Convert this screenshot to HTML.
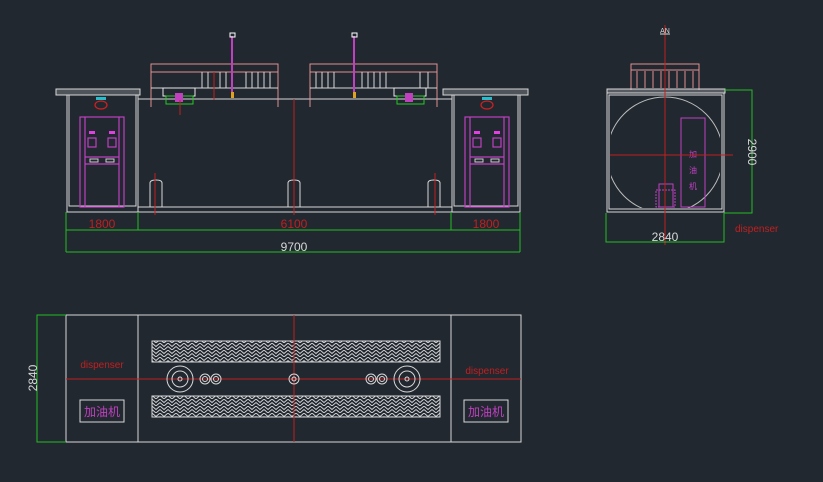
<!DOCTYPE html>
<html><head><meta charset="utf-8"><style>
html,body{margin:0;padding:0;background:#212830;}
svg{display:block}
text{font-family:"Liberation Sans","Noto Sans CJK SC",sans-serif}
</style></head><body>
<svg width="823" height="482" viewBox="0 0 823 482" xmlns="http://www.w3.org/2000/svg">
<defs>
<pattern id="hb" width="8" height="7" patternUnits="userSpaceOnUse">
<path d="M0 0 L4 3.5 L8 0 M0 3.5 L4 7 L8 3.5" stroke="#d8d8d8" stroke-width="0.9" fill="none"/>
</pattern>
<clipPath id="sq"><rect x="611" y="96" width="109" height="112" rx="6"/></clipPath>
</defs>
<rect width="823" height="482" fill="#212830"/>

<!-- FRONT VIEW -->
<g fill="none" stroke="#d8d8d8" stroke-width="1">
<rect x="56" y="89" width="84" height="6" fill="#d8d8d8" fill-opacity="0.25"/>
<rect x="443" y="89" width="85" height="6" fill="#d8d8d8" fill-opacity="0.25"/>
<rect x="67" y="95" width="71" height="117"/>
<rect x="69" y="95" width="67" height="111"/>
<rect x="452" y="95" width="68" height="117"/>
<rect x="454" y="95" width="64" height="111"/>
<line x1="138" y1="99" x2="452" y2="99"/>
<line x1="138" y1="207" x2="452" y2="207"/>
<line x1="67" y1="212" x2="520" y2="212"/>
<path d="M150 207 V183 Q150 180 156 180 Q162 180 162 183 V207"/>
<path d="M288 207 V183 Q288 180 294 180 Q300 180 300 183 V207"/>
<path d="M428 207 V183 Q428 180 434 180 Q440 180 440 183 V207"/>
</g>
<!-- canopies -->
<g fill="none" stroke="#e09090" stroke-width="1">
<rect x="151" y="64" width="127" height="8"/>
<line x1="151" y1="72" x2="151" y2="107"/><line x1="278" y1="72" x2="278" y2="107"/>
<rect x="310" y="64" width="127" height="8"/>
<line x1="310" y1="72" x2="310" y2="107"/><line x1="437" y1="72" x2="437" y2="107"/>
<rect x="631" y="64" width="68" height="6"/>
<line x1="631" y1="70" x2="631" y2="90"/><line x1="699" y1="70" x2="699" y2="90"/>
</g>
<g stroke="#d8d8d8" stroke-width="1">
<line x1="151" y1="88" x2="278" y2="88"/><line x1="310" y1="88" x2="437" y2="88"/>
<path d="M202 72V88M208 72V88M214 72V88M220 72V88M226 72V88M246 72V88M252 72V88M258 72V88M264 72V88M270 72V88"/>
<path d="M316 72V88M322 72V88M328 72V88M334 72V88M362 72V88M368 72V88M374 72V88M380 72V88M386 72V88M420 72V88M428 72V88"/>
<path d="M637 71V88M645 71V88M653 71V88M661 71V88M669 71V88M677 71V88M685 71V88M693 71V88" stroke="#e09090"/>
</g>
<!-- vent pipes -->
<g stroke="#c040c0" stroke-width="2">
<line x1="232" y1="36" x2="232" y2="98"/><line x1="354" y1="36" x2="354" y2="98"/>
</g>
<rect x="230" y="33" width="5" height="4" fill="none" stroke="#fff"/>
<rect x="352" y="33" width="5" height="4" fill="none" stroke="#fff"/>
<rect x="231" y="92" width="3" height="6" fill="#e0a020"/>
<rect x="353" y="92" width="3" height="6" fill="#e0a020"/>
<!-- pumps -->
<g stroke="#e8e8e8" stroke-width="1" fill="none">
<rect x="163" y="88" width="32" height="8"/><rect x="394" y="88" width="32" height="8"/>
</g>
<rect x="166" y="96" width="27" height="8" fill="none" stroke="#2c2"/>
<rect x="397" y="96" width="27" height="8" fill="none" stroke="#2c2"/>
<rect x="175" y="93" width="8" height="9" fill="#c040c0"/>
<rect x="405" y="93" width="8" height="9" fill="#c040c0"/>
<!-- dispensers front -->
<g fill="none" stroke="#c040c0" stroke-width="1.2">
<rect x="80" y="117" width="44" height="90"/><line x1="85" y1="117" x2="85" y2="207"/><line x1="119" y1="117" x2="119" y2="207"/>
<line x1="85" y1="157" x2="119" y2="157"/><line x1="85" y1="164" x2="119" y2="164"/>
<rect x="88" y="138" width="8" height="9"/><rect x="108" y="138" width="8" height="9"/>
<rect x="465" y="117" width="44" height="90"/><line x1="470" y1="117" x2="470" y2="207"/><line x1="504" y1="117" x2="504" y2="207"/>
<line x1="470" y1="157" x2="504" y2="157"/><line x1="470" y1="164" x2="504" y2="164"/>
<rect x="473" y="138" width="8" height="9"/><rect x="493" y="138" width="8" height="9"/>
</g>
<rect x="89" y="131" width="6" height="3" fill="#e040e0"/><rect x="109" y="131" width="6" height="3" fill="#e040e0"/>
<rect x="474" y="131" width="6" height="3" fill="#e040e0"/><rect x="494" y="131" width="6" height="3" fill="#e040e0"/>
<g fill="none" stroke="#ccc"><rect x="90" y="159" width="8" height="3"/><rect x="106" y="159" width="8" height="3"/><rect x="475" y="159" width="8" height="3"/><rect x="491" y="159" width="8" height="3"/></g>
<g fill="none" stroke="#d02020" stroke-width="1.2"><ellipse cx="101" cy="105" rx="6" ry="4"/><ellipse cx="487" cy="105" rx="6" ry="4"/></g>
<g fill="#20c0d0"><rect x="96" y="97" width="10" height="3"/><rect x="482" y="97" width="10" height="3"/></g>
<!-- red center lines front -->
<g stroke="#c02020" stroke-width="1">
<line x1="294" y1="99" x2="294" y2="215"/><line x1="155" y1="173" x2="155" y2="215"/><line x1="435" y1="173" x2="435" y2="215"/>
<line x1="214" y1="72" x2="214" y2="100"/><line x1="180" y1="100" x2="180" y2="115"/>
</g>
<!-- front dims -->
<g stroke="#22bb22" stroke-width="1" fill="none">
<line x1="66" y1="212" x2="66" y2="252"/><line x1="138" y1="212" x2="138" y2="230"/><line x1="451" y1="212" x2="451" y2="230"/><line x1="520" y1="212" x2="520" y2="252"/>
<line x1="66" y1="230" x2="520" y2="230"/><line x1="66" y1="252" x2="520" y2="252"/>
</g>
<g fill="#c02020" font-size="12" text-anchor="middle">
<text x="102" y="228">1800</text><text x="294" y="228">6100</text><text x="486" y="228">1800</text>
</g>
<text x="294" y="251" fill="#d8d8d8" font-size="12" text-anchor="middle">9700</text>

<!-- SIDE VIEW -->
<g fill="none" stroke="#d8d8d8" stroke-width="1">
<rect x="607" y="89" width="118" height="4" fill="#d8d8d8" fill-opacity="0.3"/>
<rect x="607" y="93" width="117" height="119"/>
<rect x="609" y="95" width="113" height="114"/>
<circle cx="665" cy="155" r="58" clip-path="url(#sq)" stroke="#bbb"/>
</g>
<rect x="681" y="118" width="24" height="89" fill="none" stroke="#c040c0"/>
<g fill="#c040c0" font-size="8" text-anchor="middle"><text x="693" y="157">加</text><text x="693" y="173">油</text><text x="693" y="189">机</text></g>
<rect x="659" y="184" width="14" height="23" fill="none" stroke="#c040c0"/>
<rect x="656" y="190" width="19" height="17" fill="none" stroke="#c040c0" stroke-dasharray="2 1"/>
<g stroke="#c02020"><line x1="665" y1="25" x2="665" y2="245"/><line x1="610" y1="155" x2="733" y2="155"/></g>
<text x="665" y="33" fill="#d8d8d8" font-size="7" text-anchor="middle">AN</text>
<line x1="660" y1="34" x2="670" y2="34" stroke="#d8d8d8"/>
<g stroke="#22bb22" fill="none"><polyline points="724,90 752,90 752,213 724,213"/><polyline points="606,213 606,242 724,242 724,213"/></g>
<text transform="translate(752,152) rotate(90)" fill="#d8d8d8" font-size="12" text-anchor="middle" dy="4">2900</text>
<text x="665" y="241" fill="#d8d8d8" font-size="12" text-anchor="middle">2840</text>
<text x="735" y="232" fill="#c02020" font-size="10">dispenser</text>

<!-- PLAN VIEW -->
<g fill="none" stroke="#d8d8d8" stroke-width="1">
<rect x="66" y="315" width="455" height="127"/>
<line x1="138" y1="315" x2="138" y2="442"/><line x1="451" y1="315" x2="451" y2="442"/>
</g>
<rect x="152" y="341" width="288" height="21" fill="url(#hb)" stroke="#d8d8d8"/>
<rect x="152" y="396" width="288" height="21" fill="url(#hb)" stroke="#d8d8d8"/>
<g stroke="#c02020"><line x1="66" y1="379" x2="521" y2="379"/><line x1="294" y1="315" x2="294" y2="442"/></g>
<g fill="none" stroke="#d8d8d8">
<circle cx="180" cy="379" r="13"/><circle cx="180" cy="379" r="8"/><circle cx="180" cy="379" r="2"/>
<circle cx="407" cy="379" r="13"/><circle cx="407" cy="379" r="8"/><circle cx="407" cy="379" r="2"/>
<circle cx="205" cy="379" r="5"/><circle cx="205" cy="379" r="2.5"/><circle cx="216" cy="379" r="5"/><circle cx="216" cy="379" r="2.5"/>
<circle cx="371" cy="379" r="5"/><circle cx="371" cy="379" r="2.5"/><circle cx="382" cy="379" r="5"/><circle cx="382" cy="379" r="2.5"/>
<circle cx="294" cy="379" r="5"/><circle cx="294" cy="379" r="2"/>
<rect x="80" y="400" width="44" height="22"/><rect x="464" y="400" width="44" height="22"/>
</g>
<g fill="#c040c0" font-size="12" text-anchor="middle"><text x="102" y="416">加油机</text><text x="486" y="416">加油机</text></g>
<g fill="#c02020" font-size="10" text-anchor="middle"><text x="102" y="368">dispenser</text><text x="487" y="374">dispenser</text></g>
<polyline points="66,315 37,315 37,442 66,442" fill="none" stroke="#22bb22"/>
<text transform="translate(33,378) rotate(-90)" fill="#d8d8d8" font-size="12" text-anchor="middle" dy="4">2840</text>
</svg>
</body></html>
